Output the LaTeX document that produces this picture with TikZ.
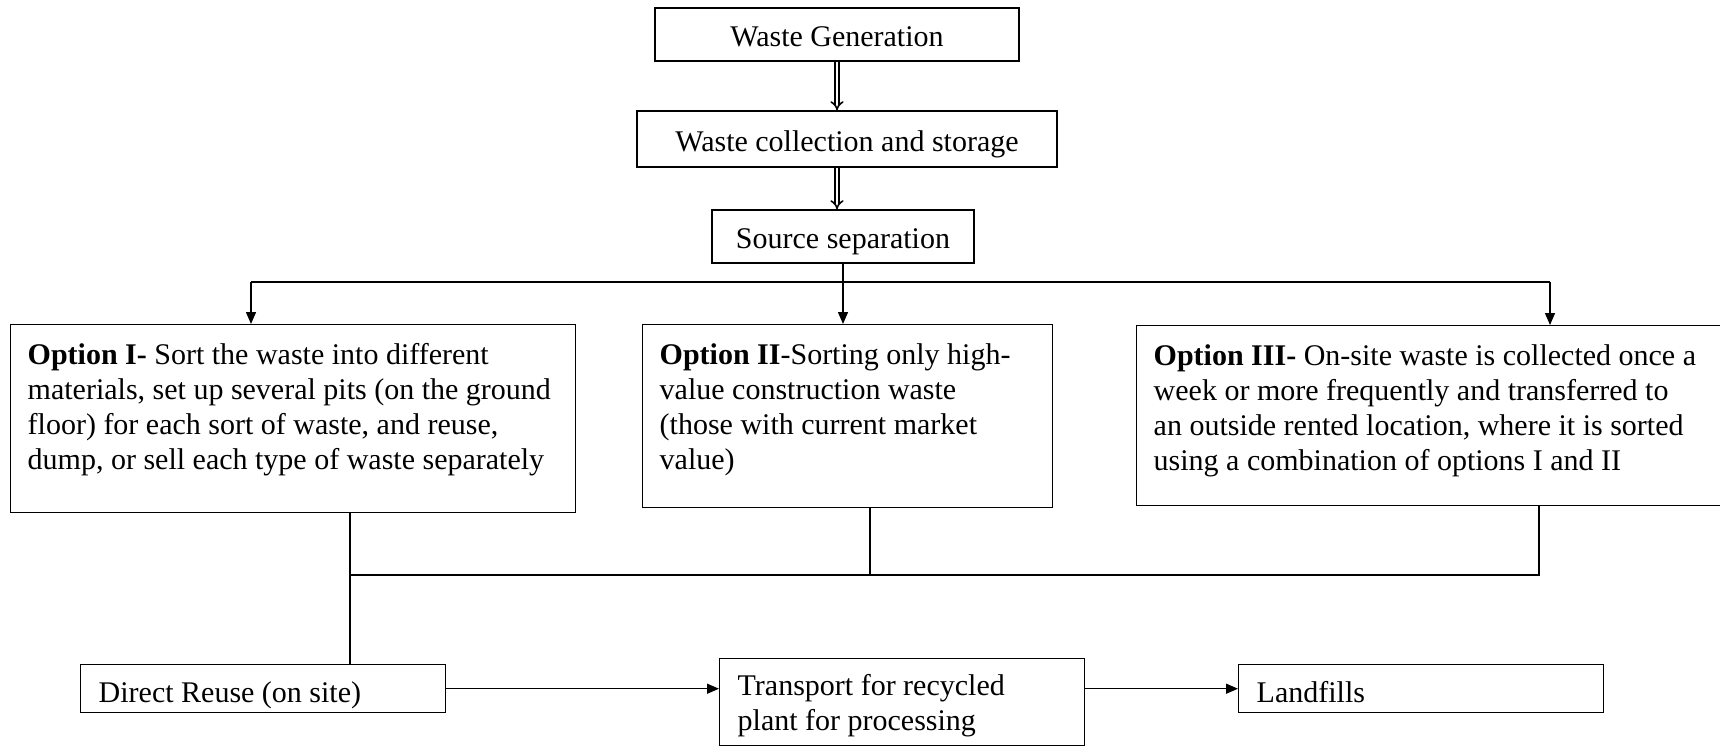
\documentclass[tikz,border=0pt]{standalone}
\usepackage{fontspec}
\setmainfont{Liberation Serif}
\usetikzlibrary{arrows.meta}

\begin{document}
\begin{tikzpicture}[x=0.5pt,y=-0.5pt,
  font=\fontsize{15}{17.5}\selectfont,
  box/.style={draw, line width=0.7pt, minimum height=26.5pt, inner sep=0pt, text height=12pt, text depth=0pt},
  optbox/.style={draw, line width=0.7pt, anchor=north west, align=flush left, inner xsep=8.5pt, inner ysep=6pt, text height=14pt, text depth=65pt},
  endbox/.style={draw, line width=0.7pt, anchor=north west, align=flush left, text width=164.5pt, inner xsep=9pt, inner ysep=2pt, text height=17pt, text depth=3pt},
  line/.style={line width=0.7pt},
  arr/.style={line, -{Triangle[length=6pt,width=5pt]}},
  dbl/.style={double, double distance=1.4pt, line width=0.8pt, -{Implies[length=3pt]}}]
\useasboundingbox (0,0) rectangle (1720,746);

\node[box, minimum width=182pt] (gen) at (837,34.5) {Waste Generation};
\node[box, minimum width=210pt, minimum height=28pt] (coll) at (847,139) {Waste collection and storage};
\node[box, minimum width=131pt] (src) at (843,236.5) {Source separation};

\node[optbox, text width=265.5pt, text depth=68pt] (opt1) at (10,324)
  {\textbf{Option I-} Sort the waste into different\\materials, set up several pits (on the ground\\floor) for each sort of waste, and reuse,\\dump, or sell each type of waste separately};
\node[optbox, text width=188pt, text depth=65.5pt] (opt2) at (642,324)
  {\textbf{Option II}-Sorting only high-\\value construction waste\\(those with current market\\value)};
\node[optbox, text width=276pt, text depth=64pt] (opt3) at (1136,325)
  {\textbf{Option III-} On-site waste is collected once a\\week or more frequently and transferred to\\an outside rented location, where it is sorted\\using a combination of options I and II};

\node[endbox] (reuse) at (80,664) {Direct Reuse (on site)};
\node[endbox, text height=16.5pt, text depth=23pt] (trans) at (719,658) {Transport for recycled\\plant for processing};
\node[endbox] (land) at (1238,664) {Landfills};

\coordinate (b1) at (251,282);
\coordinate (b3) at (1550,282);
\coordinate (j1) at (350,575);
\coordinate (j2) at (870,575);
\coordinate (j3) at (1539,575);

\draw[dbl] (gen) -- (gen.south |- coll.north);
\draw[dbl] (coll.south -| gen) -- (gen |- src.north);
\draw[line] (b1) -- (b3);
\draw[arr] (b1) -- (b1 |- opt1.north);
\draw[arr] (src) -- (src |- opt2.north);
\draw[arr] (b3) -- (b3 |- opt3.north);
\draw[line] (opt1.south -| j1) -- (reuse.north -| j1);
\draw[line] (opt2.south -| j2) -- (j2);
\draw[line] (opt3.south -| j3) -- (j3) -- (j1);
\draw[arr] (reuse) -- (trans.west |- reuse);
\draw[arr] (trans.east |- land) -- (land);
\end{tikzpicture}
\end{document}
